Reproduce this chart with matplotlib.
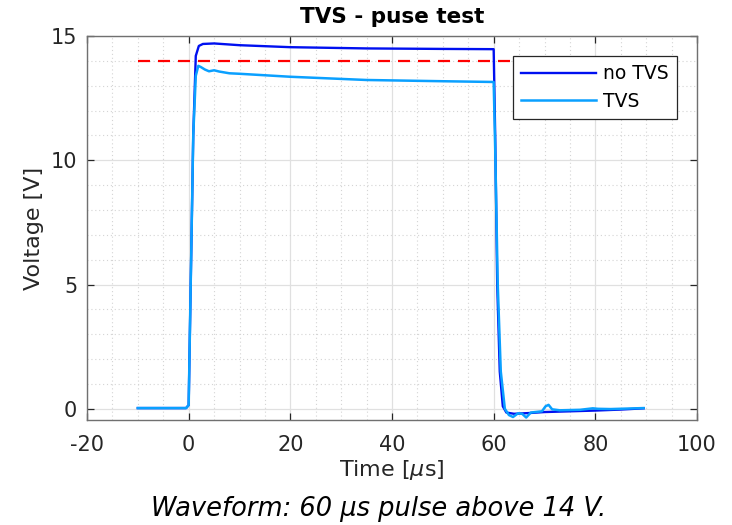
import numpy as np
import matplotlib.pyplot as plt
from matplotlib.ticker import MultipleLocator

plt.rcParams['font.family'] = ['DejaVu Sans']
plt.rcParams['axes.unicode_minus'] = False

# no TVS trace (time in us, voltage in V)
t_notvs = [-10, -5, -0.5, 0, 0.4, 0.9, 1.4, 2.0, 2.8, 5, 10, 20, 35, 50, 60,
           60.3, 60.7, 61.2, 61.8, 62.5, 64, 67, 70, 75, 80, 85, 89.5]
v_notvs = [0.03, 0.03, 0.03, 0.15, 5.0, 11.0, 14.2, 14.6, 14.68, 14.7, 14.63, 14.55, 14.5, 14.48, 14.47,
           11.0, 5.0, 1.5, 0.1, -0.15, -0.2, -0.17, -0.13, -0.1, -0.07, -0.03, 0.02]

# TVS trace
t_tvs = [-10, -5, -0.5, 0, 0.4, 0.9, 1.4, 1.9, 2.4, 3.2, 4.0, 5.0, 6.0, 8, 10, 20, 35, 50, 60,
         60.3, 60.8, 61.4, 62.2, 63.0, 63.8, 64.8, 65.6, 66.4, 67.3, 69.5, 70.2, 70.8, 71.5, 73,
         77, 79.5, 80.5, 83, 89.5]
v_tvs = [0.03, 0.03, 0.03, 0.15, 5.0, 11.0, 13.4, 13.8, 13.75, 13.65, 13.58, 13.62, 13.57, 13.5, 13.48,
         13.36, 13.23, 13.18, 13.15,
         10.5, 5.0, 1.5, 0.0, -0.25, -0.33, -0.18, -0.2, -0.35, -0.15, -0.1, 0.1, 0.16, -0.02, -0.06,
         -0.04, 0.02, 0.0, -0.01, 0.03]

limit_t = [-10, 90]
limit_v = [14, 14]

fig = plt.figure(figsize=(7.32, 5.25), dpi=100)
ax = fig.add_axes([87 / 732, 105 / 525, 610 / 732, 384 / 525])

ax.plot(limit_t, limit_v, color='#ff0000', lw=1.6, dashes=(5.4, 3.6), zorder=2)
ax.plot(t_notvs, v_notvs, color='#0010f0', lw=1.7, label='no TVS', zorder=3)
ax.plot(t_tvs, v_tvs, color='#0aa0ff', lw=1.8, label='TVS', zorder=4)

ax.set_xlim(-20, 100)
ax.set_ylim(-0.45, 15)
ax.xaxis.set_major_locator(MultipleLocator(20))
ax.xaxis.set_minor_locator(MultipleLocator(5))
ax.yaxis.set_major_locator(MultipleLocator(5))
ax.yaxis.set_minor_locator(MultipleLocator(1))
ax.grid(which='major', color='#e0e0e0', lw=0.9)
ax.grid(which='minor', color='#d4d4d4', lw=0.8, ls=(0, (1, 2.5)))
ax.set_axisbelow(True)

for s in ax.spines.values():
    s.set_color('#707070')
    s.set_linewidth(1.0)
ax.tick_params(which='both', direction='in', top=True, right=True, colors='#262626',
               labelsize=15, length=5, width=0.9)
ax.tick_params(which='minor', length=0)
ax.tick_params(axis='x', pad=11)
ax.tick_params(axis='y', pad=7)

ax.set_title('TVS - puse test', fontsize=15.5, fontweight='bold', pad=9)
ax.set_xlabel(r'Time [$\mu$s]', fontsize=16, color='#262626', labelpad=2)
ax.set_ylabel('Voltage [V]', fontsize=16, color='#262626', labelpad=5)

leg = ax.legend(loc='upper right', bbox_to_anchor=(0.967, 0.948), fontsize=13.5, fancybox=False,
                framealpha=1, edgecolor='#262626', handlelength=4.0, handletextpad=0.35,
                borderpad=0.45, labelspacing=0.45, borderaxespad=0)
leg.get_frame().set_linewidth(0.9)

fig.text(379 / 732, 1 - 509 / 525, 'Waveform: 60 µs pulse above 14 V.', fontsize=18.5,
         style='italic', ha='center', va='center')

fig.savefig('out.png', dpi=100)
